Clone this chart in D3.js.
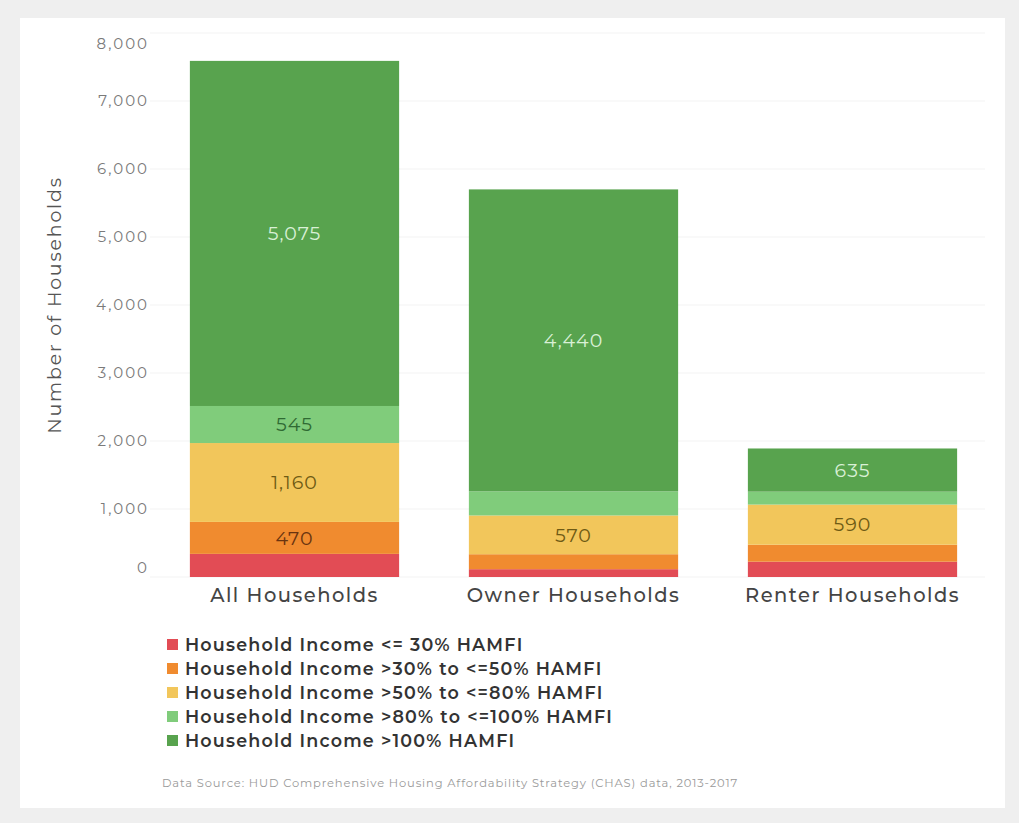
<!DOCTYPE html>
<html><head><meta charset="utf-8">
<script src="https://cdn.jsdelivr.net/npm/d3@7"></script>
<style>
html,body{margin:0;padding:0;background:#efefef;}
svg{display:block;}
</style></head>
<body>
<svg id="chart" width="1019" height="823"></svg>
<script>
const categories = ["All Households", "Owner Households", "Renter Households"];
const seriesNames = [
  "Household Income <= 30% HAMFI",
  "Household Income >30% to <=50% HAMFI",
  "Household Income >50% to <=80% HAMFI",
  "Household Income >80% to <=100% HAMFI",
  "Household Income >100% HAMFI"
];
const le30 = [340, 115, 225];
const gt30le50 = [470, 220, 250];
const gt50le80 = [1160, 570, 590];
const gt80le100 = [545, 355, 190];
const gt100 = [5075, 4440, 635];
// which segments carry a printed label
const shownLabels = [
  [false, false, false],
  [true, false, false],
  [true, true, true],
  [true, false, false],
  [true, true, true]
];
const yTicks = [0, 1000, 2000, 3000, 4000, 5000, 6000, 7000, 8000];
const colors = ["#e24c55", "#f08b2f", "#f2c65b", "#80cc7b", "#58a34e"];
const labelColors = ["#ffffff", "#6a3410", "#6e5a14", "#2f6a33", "#d9f0d6"];
const yTitle = "Number of Households";
const sourceText = "Data Source: HUD Comprehensive Housing Affordability Strategy (CHAS) data, 2013-2017";

const series = [le30, gt30le50, gt50le80, gt80le100, gt100];
const table = categories.map((c, i) => {
  const o = {cat: c};
  seriesNames.forEach((s, j) => o[s] = series[j][i]);
  return o;
});

const svg = d3.select("#chart");
svg.append("rect").attr("x", 20).attr("y", 18).attr("width", 985).attr("height", 790).attr("fill", "#ffffff");

const font = "Montserrat, 'Open Sans', 'Noto Sans', sans-serif";
const x = d3.scaleBand().domain(categories).range([155, 992]).paddingInner(0.25).paddingOuter(0.125);
const y = d3.scaleLinear().domain([0, 8000]).range([577, 33]);

// grid
svg.append("g").selectAll("line").data(yTicks).join("line")
  .attr("x1", 150).attr("x2", 985)
  .attr("y1", d => y(d)).attr("y2", d => y(d))
  .attr("stroke", "#f3f3f3").attr("stroke-width", 1);

// y axis
const yAxis = svg.append("g").attr("transform", "translate(149,0)")
  .call(d3.axisLeft(y).tickValues(yTicks).tickFormat(d3.format(",")).tickSize(0).tickPadding(0));
yAxis.select(".domain").remove();
yAxis.selectAll("text").attr("font-family", font).attr("font-size", 15).attr("letter-spacing", 2)
  .attr("fill", "#7a7a7a")
  .attr("dy", d => d === 8000 ? "1.0em" : (d === 0 ? "-0.3em" : "0.32em"));

svg.append("text").attr("transform", "translate(61,305) rotate(-90)")
  .attr("text-anchor", "middle").attr("font-family", font).attr("font-size", 19)
  .attr("letter-spacing", 1.8).attr("fill", "#555").text(yTitle);

const stack = d3.stack().keys(seriesNames)(table);
const layers = svg.append("g").selectAll("g").data(stack).join("g")
  .attr("fill", (d, i) => colors[i]);
layers.selectAll("rect").data(d => d).join("rect")
  .attr("x", d => x(d.data.cat)).attr("width", x.bandwidth())
  .attr("y", d => y(d[1])).attr("height", d => y(d[0]) - y(d[1]));

stack.forEach((layer, i) => {
  layer.forEach((d, k) => {
    if (!shownLabels[i][k]) return;
    svg.append("text")
      .attr("x", x(d.data.cat) + x.bandwidth() / 2)
      .attr("y", (y(d[0]) + y(d[1])) / 2)
      .attr("dy", "0.36em").attr("text-anchor", "middle")
      .attr("font-family", font).attr("font-size", 19).attr("letter-spacing", 1)
      .attr("fill", labelColors[i])
      .text(d3.format(",")(d[1] - d[0]));
  });
});

// x axis labels
const xAxis = svg.append("g").attr("transform", "translate(0,577)")
  .call(d3.axisBottom(x).tickSize(0).tickPadding(11));
xAxis.select(".domain").remove();
xAxis.selectAll("text").attr("font-family", font).attr("font-size", 19.5).attr("letter-spacing", 1.5)
  .attr("fill", "#444").attr("font-weight", 500);

// legend
const legend = svg.append("g").selectAll("g").data(seriesNames).join("g")
  .attr("transform", (d, i) => `translate(167,${645 + i * 24})`);
legend.append("rect").attr("x", 0).attr("y", -6).attr("width", 11).attr("height", 11)
  .attr("fill", (d, i) => colors[i]);
legend.append("text").attr("x", 18).attr("dy", "0.35em")
  .attr("font-family", font).attr("font-size", 17.5).attr("letter-spacing", 1.2)
  .attr("font-weight", 600).attr("fill", "#333")
  .text(d => d);

svg.append("text").attr("x", 162).attr("y", 787).attr("font-family", font)
  .attr("font-size", 11.5).attr("letter-spacing", 0.85).attr("fill", "#9a9a9a").text(sourceText);
</script>
</body></html>
